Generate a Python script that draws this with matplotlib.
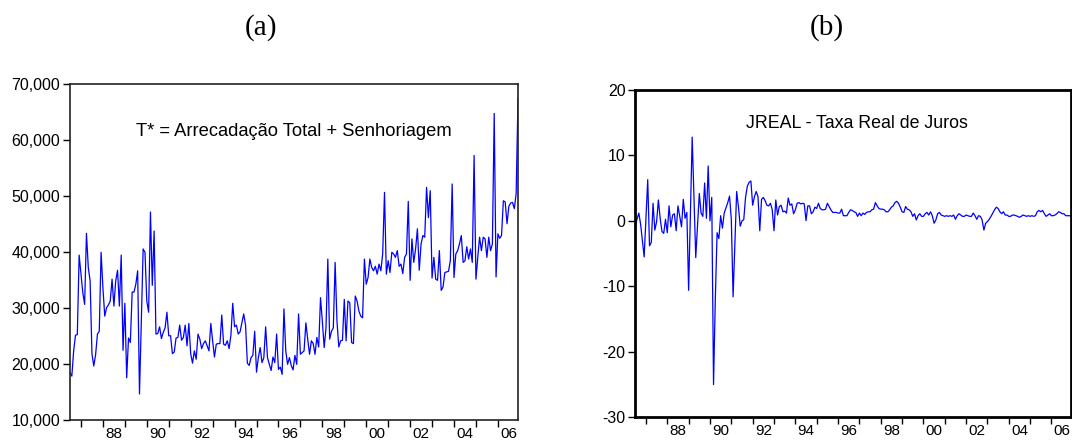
import numpy as np
import matplotlib
matplotlib.use('Agg')
import matplotlib.pyplot as plt
from matplotlib.ticker import FixedLocator, FuncFormatter

plt.rcParams['font.family'] = ['Liberation Sans', 'DejaVu Sans']
plt.rcParams['axes.unicode_minus'] = False

# monthly data, first observation 1986:07
start_year = 1986.5

# T* = arrecadacao total + senhoriagem
tstar_8691 = [18500, 17900, 22400, 25200, 25300, 39500, 36100, 32800, 30700, 43400,
              37300, 34900, 21900, 19700, 21700, 25400, 25900, 40000, 33700, 28600,
              30100, 30600, 31300, 35200, 30400, 34900, 36800, 30400, 39500, 22500,
              30900, 17600, 24700, 23900, 32900, 32900, 34300, 36700, 14700, 27600,
              40600, 40000, 31300, 29300, 47200, 34100, 43800, 25400, 25500, 26700,
              24600, 25700, 26500, 29300, 25100, 25100, 21900, 22200, 24700, 24800,
              27000, 24300, 24800, 27000]
tstar_9196 = [23300, 27300, 21900, 20200, 22400, 20900, 25400, 24500, 22800, 23700,
              24200, 23300, 22400, 27300, 24200, 21300, 23600, 23700, 23700, 28800,
              23600, 23400, 24200, 22800, 25200, 30900, 26700, 27000, 25400, 25800,
              27400, 29000, 27000, 20200, 19800, 21200, 21600, 25900, 18600, 21200,
              23000, 20300, 21200, 26700, 21200, 20000, 18900, 21300, 20300, 25400,
              19100, 19500, 18200, 29900, 22400, 20000, 21200, 19800, 19000, 21600,
              20000, 29000]
tstar_9701 = [21800, 22100, 22400, 27400, 24500, 21800, 24200, 23700, 21800, 24800,
              23100, 31900, 27700, 23000, 26500, 38800, 24500, 25900, 26500, 38200,
              27700, 23100, 24200, 24300, 31600, 24200, 31300, 31000, 23900, 23700,
              32200, 31300, 29500, 28600, 28300, 38800, 34300, 35500, 38800, 37300,
              36700, 37500, 36100, 37900, 36700, 39700, 50700, 36100, 38500, 36400,
              40000, 39700, 39100, 40300, 37500, 37900, 36200]
tstar_0106 = [39100, 39700, 49100, 35000, 42400, 38200, 40600, 44200, 36800, 41500,
              43000, 42700, 51600, 46200, 51000, 35400, 39100, 35200, 35000, 40300,
              33200, 33800, 36400, 36500, 36600, 38500, 52200, 35500, 39700, 40300,
              41500, 43000, 38200, 38500, 41000, 38800, 40600, 38200, 57300, 35200,
              39100, 42700, 40300, 42700, 42400, 39100, 42700, 40300, 41500, 64800,
              35600, 43300, 42500, 43000, 49200, 49000, 45100, 48200, 48800, 48900,
              47800, 50500, 67500]

# JREAL - taxa real de juros
jreal_8691 = [-0.9, 0.3, 1.2, -0.5, -3.0, -5.5, 0.5, 6.3, -3.8, -3.3,
              2.7, -1.4, -0.1, 3.2, 0.4, -1.6, -1.9, 0.25, -1.8, 2.3,
              -0.9, 0.9, 1.1, -1.5, 2.3, 0.7, -0.9, 3.3, 0.4, 1.3,
              -10.6, 1.0, 12.8, 3.5, -5.6, -0.7, 4.2, 1.2, 0.7, 5.8,
              0.4, 8.4, 0.0, 3.6, -25.0, -12.0, -1.8, -2.7, 0.8, -1.1,
              1.2, 2.0, 2.8, 3.8, 0.2, -11.6, -3.5, 4.5, 2.2, -0.8,
              0.0, 0.2, 3.6, 5.3]
jreal_9196 = [5.9, 6.1, 2.4, 3.7, 4.5, 3.7, -1.5, 3.3, 3.6, 3.1,
              2.4, 2.3, 2.7, 1.7, -1.5, 3.2, 0.9, 2.2, 2.4, 1.4,
              1.5, 1.2, 3.5, 2.4, 2.6, 1.1, 1.7, 2.7, 2.8, 2.6,
              2.7, 2.6, 0.05, 2.3, 2.3, 1.1, 1.4, 2.1, 1.9, 2.7,
              1.9, 1.7, 1.7, 1.8, 2.7, 2.2, 1.7, 1.3, 1.3, 1.3,
              1.2, 1.2, 1.8, 0.8, 0.8, 0.8, 1.3, 1.7, 1.6, 1.4,
              1.3, 0.7]
jreal_9701 = [1.2, 0.8, 1.2, 1.0, 1.3, 1.4, 1.4, 1.7, 1.8, 2.8,
              2.3, 1.9, 1.8, 1.8, 1.7, 1.4, 1.4, 1.7, 2.1, 2.3,
              2.8, 3.0, 2.7, 2.1, 1.4, 1.3, 2.2, 1.8, 1.7, 1.4,
              0.7, 1.1, 0.15, 0.8, 1.1, 0.7, 0.7, 1.1, 1.3, 0.9,
              1.4, 0.8, -0.35, 0.15, 1.1, 1.3, 0.9, 0.8, 0.7, 0.8,
              0.7, 0.8, 0.7, 0.9, 0.25, 0.8, 1.1]
jreal_0106 = [0.9, 0.7, 0.7, 0.9, 0.8, 0.7, 0.7, 1.2, 0.8, 0.25,
              0.8, 0.7, 0.15, -1.4, -0.35, -0.1, 0.25, 0.7, 1.2, 1.7,
              2.1, 1.9, 1.4, 1.1, 1.4, 0.9, 0.9, 0.7, 0.7, 0.9,
              0.9, 0.8, 0.7, 0.55, 0.7, 0.9, 0.8, 0.7, 0.8, 0.7,
              0.8, 0.7, 0.8, 1.4, 1.6, 1.4, 1.6, 1.1, 0.7, 0.9,
              1.1, 0.8, 0.8, 0.9, 1.1, 1.4, 1.3, 1.1, 1.1, 0.8,
              0.8, 0.8, 0.7]

tstar = np.array(tstar_8691 + tstar_9196 + tstar_9701 + tstar_0106)
jreal = np.array(jreal_8691 + jreal_9196 + jreal_9701 + jreal_0106)
t = start_year + np.arange(len(tstar)) / 12.0

year_ticks = np.arange(1987, 2007)
label_years = np.arange(1988, 2007, 2)
year_labels = [f"{y % 100:02d}" for y in label_years]

fig = plt.figure(figsize=(10.72, 4.43), dpi=100)
ax1 = fig.add_axes([0.0653, 0.0512, 0.4179, 0.7585])
ax2 = fig.add_axes([0.5926, 0.058, 0.4065, 0.7388])


def style_time_axis(ax):
    ax.set_xlim(t[0], t[-1])
    ax.xaxis.set_major_locator(FixedLocator(year_ticks))
    ax.xaxis.set_major_formatter(FuncFormatter(lambda v, p: ''))
    ax.xaxis.set_minor_locator(FixedLocator(label_years + 0.5))
    ax.set_xticklabels(year_labels, minor=True)
    ax.tick_params(axis='x', which='major', direction='out', length=5, width=1)
    ax.tick_params(axis='x', which='minor', length=0, pad=4.5, labelsize=11)
    ax.tick_params(axis='y', direction='out', length=5, width=1, labelsize=11.5, pad=2)


# (a)
ax1.plot(t, tstar, color='#0000ff', lw=0.9)
style_time_axis(ax1)
ax1.set_ylim(10000, 70000)
ax1.set_yticks(np.arange(10000, 70001, 10000))
ax1.yaxis.set_major_formatter(FuncFormatter(lambda v, p: f"{int(v):,}"))
for s in ax1.spines.values():
    s.set_color('#222222')
    s.set_linewidth(1.2)
ax1.text(0.5, 0.86, 'T* = Arrecadação Total + Senhoriagem', transform=ax1.transAxes,
         ha='center', va='center', fontsize=13.2)

# (b)
ax2.plot(t, jreal, color='#0000ff', lw=0.9)
style_time_axis(ax2)
ax2.set_ylim(-30, 20)
ax2.set_yticks(np.arange(-30, 21, 10))
for s in ax2.spines.values():
    s.set_color('black')
    s.set_linewidth(2)
ax2.text(0.509, 0.898, 'JREAL - Taxa Real de Juros', transform=ax2.transAxes,
         ha='center', va='center', fontsize=12.8)

fig.text(261 / 1072, 1 - 28 / 443, '(a)', ha='center', va='center',
         family='Liberation Serif', fontsize=21)
fig.text(827 / 1072, 1 - 28 / 443, '(b)', ha='center', va='center',
         family='Liberation Serif', fontsize=21)

fig.savefig('out.png', dpi=100)
